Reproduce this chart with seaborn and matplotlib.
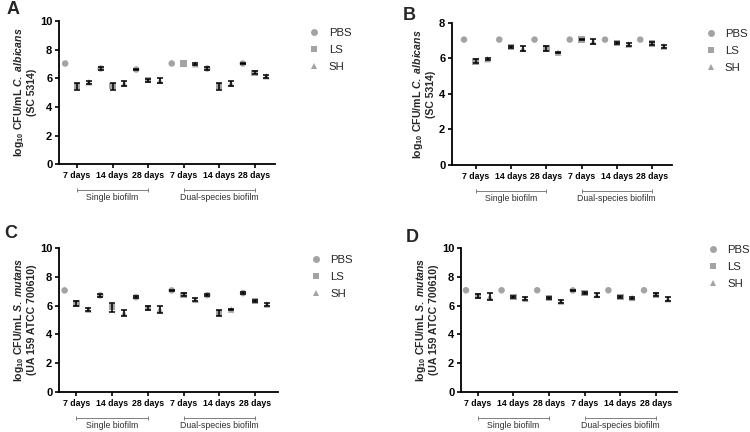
import numpy as np
import pandas as pd
import matplotlib
matplotlib.use("Agg")
import matplotlib.pyplot as plt
import matplotlib.transforms as mtransforms
from matplotlib.lines import Line2D
import seaborn as sns

# x groups and treatments
groups = ["7 days", "14 days", "28 days", "7 days", "14 days", "28 days"]
treatments = ["PBS", "LS", "SH"]

# values, per group: PBS, LS, SH
a_mean = [7.04, 5.45, 5.73, 6.69, 5.45, 5.64, 6.62, 5.87, 5.83,
          7.04, 7.04, 6.99, 6.69, 5.45, 5.64, 7.04, 6.39, 6.15]
a_err = [0.0, 0.25, 0.12, 0.10, 0.25, 0.20, 0.05, 0.12, 0.18,
         0.0, 0.0, 0.06, 0.10, 0.25, 0.20, 0.05, 0.10, 0.10]

b_mean = [7.06, 5.84, 5.96, 7.06, 6.63, 6.54, 7.06, 6.56, 6.33,
          7.06, 7.06, 6.95, 7.06, 6.87, 6.78, 7.06, 6.85, 6.67]
b_err = [0.0, 0.10, 0.06, 0.0, 0.06, 0.15, 0.0, 0.15, 0.04,
         0.0, 0.05, 0.15, 0.0, 0.08, 0.10, 0.0, 0.08, 0.08]

c_mean = [7.05, 6.14, 5.72, 6.70, 5.88, 5.47, 6.58, 5.84, 5.72,
          7.05, 6.74, 6.40, 6.72, 5.47, 5.72, 6.86, 6.30, 6.07]
c_err = [0.0, 0.20, 0.08, 0.10, 0.30, 0.20, 0.05, 0.12, 0.25,
         0.05, 0.10, 0.10, 0.05, 0.20, 0.06, 0.06, 0.08, 0.10]

d_mean = [7.06, 6.67, 6.60, 7.06, 6.60, 6.47, 7.06, 6.51, 6.28,
          7.05, 6.88, 6.74, 7.06, 6.60, 6.53, 7.06, 6.74, 6.44]
d_err = [0.0, 0.12, 0.25, 0.0, 0.08, 0.10, 0.0, 0.08, 0.12,
         0.05, 0.08, 0.12, 0.0, 0.08, 0.05, 0.0, 0.10, 0.12]

biofilms = ["Single biofilm", "Dual-species biofilm"]

sns.set_style("ticks")
plt.rcParams["font.family"] = ["Liberation Sans", "DejaVu Sans"]
plt.rcParams["mathtext.fontset"] = "custom"
plt.rcParams["mathtext.rm"] = "Liberation Sans:bold"
plt.rcParams["mathtext.it"] = "Liberation Sans:italic:bold"
plt.rcParams["mathtext.bf"] = "Liberation Sans:bold"

grey = "#a3a3a3"
markers = {"PBS": "o", "LS": "s", "SH": "^"}


def make_df(mean, err):
    rows = []
    for g in range(len(groups)):
        for t, tr in enumerate(treatments):
            i = g * 3 + t
            rows.append({"pos": i, "treatment": tr, "mean": mean[i], "err": err[i]})
    return pd.DataFrame(rows)


def draw_panel(rect, mean, err, ymax, ylabel, letter, letter_xy, xlim, leg_xy):
    ax = fig.add_axes(rect)
    df = make_df(mean, err)
    sns.scatterplot(data=df, x="pos", y="mean", hue="treatment", style="treatment",
                    palette=[grey] * 3, markers=markers, s=22, edgecolor="none",
                    legend=False, ax=ax, zorder=2)
    e = df[df["err"] > 0]
    ax.errorbar(e["pos"], e["mean"], yerr=e["err"], fmt="none", ecolor="black",
                elinewidth=1.1, capsize=2.3, capthick=1.1, zorder=3)

    ax.set_ylim(0, ymax)
    ax.set_yticks(np.arange(0, ymax + 1, 2))
    ax.set_xlim(*xlim)
    ticks = [g * 3 + 1 for g in range(len(groups))]
    ax.set_xticks(ticks)
    ax.set_xticklabels(groups, fontsize=6.3, fontweight="bold")
    for lab in ax.get_yticklabels():
        lab.set_fontsize(8)
        lab.set_fontweight("bold")
    ax.tick_params(length=3, width=1.2, pad=2, colors="black")
    sns.despine(ax=ax)
    for sp in ["left", "bottom"]:
        ax.spines[sp].set_linewidth(1.3)
        ax.spines[sp].set_color("black")
    ax.set_xlabel("")
    ax.set_ylabel(ylabel, fontsize=7.6, fontweight="bold", labelpad=2, linespacing=1.15)

    # group brackets under the axis
    trans = mtransforms.blended_transform_factory(ax.transData, ax.transAxes)
    for k, name in enumerate(biofilms):
        x0, x1 = ticks[k * 3], ticks[k * 3 + 2]
        ax.plot([x0, x1], [-0.18, -0.18], color="#7f7f7f", lw=0.7, transform=trans,
                clip_on=False, marker="|", markersize=3, markeredgewidth=0.7)
        ax.text((x0 + x1) / 2, -0.235, name, transform=trans, ha="center", va="center",
                fontsize=6.3, color="#303030")

    handles = [Line2D([], [], marker=markers[t], color=grey, ls="none", markersize=5,
                      markeredgewidth=0) for t in treatments]
    ax.legend(handles, treatments, loc="upper left", bbox_to_anchor=leg_xy,
              frameon=False, fontsize=8.2, labelspacing=0.62, handlelength=1.0,
              handletextpad=0.75, borderpad=0, borderaxespad=0)

    fig.text(letter_xy[0] / 750, 1 - letter_xy[1] / 432, letter, fontsize=13,
             fontweight="bold", ha="center", va="center")
    return ax


fig = plt.figure(figsize=(7.5, 4.32), dpi=100)

draw_panel([0.079, 0.620, 0.288, 0.331], a_mean, a_err, 10,
           "log$_{10}$ CFU/mL $\\it{C.\\ albicans}$\n(SC 5314)", "A", (13, 10),
           (-0.5, 17.75), (1.155, 0.95))
draw_panel([0.603, 0.618, 0.293, 0.329], b_mean, b_err, 8,
           "log$_{10}$ CFU/mL $\\it{C.\\ albicans}$\n(SC 5314)", "B", (409, 15),
           (-1.0, 17.7), (1.15, 0.96))
draw_panel([0.079, 0.093, 0.291, 0.333], c_mean, c_err, 10,
           "log$_{10}$ CFU/mL $\\it{S.\\ mutans}$\n(UA 159 ATCC 700610)", "C", (11, 234),
           (-0.45, 17.9), (1.15, 0.95))
draw_panel([0.615, 0.093, 0.288, 0.333], d_mean, d_err, 10,
           "log$_{10}$ CFU/mL $\\it{S.\\ mutans}$\n(UA 159 ATCC 700610)", "D", (412, 238),
           (-0.4, 17.8), (1.14, 1.02))

fig.savefig("out.png", dpi=100)
